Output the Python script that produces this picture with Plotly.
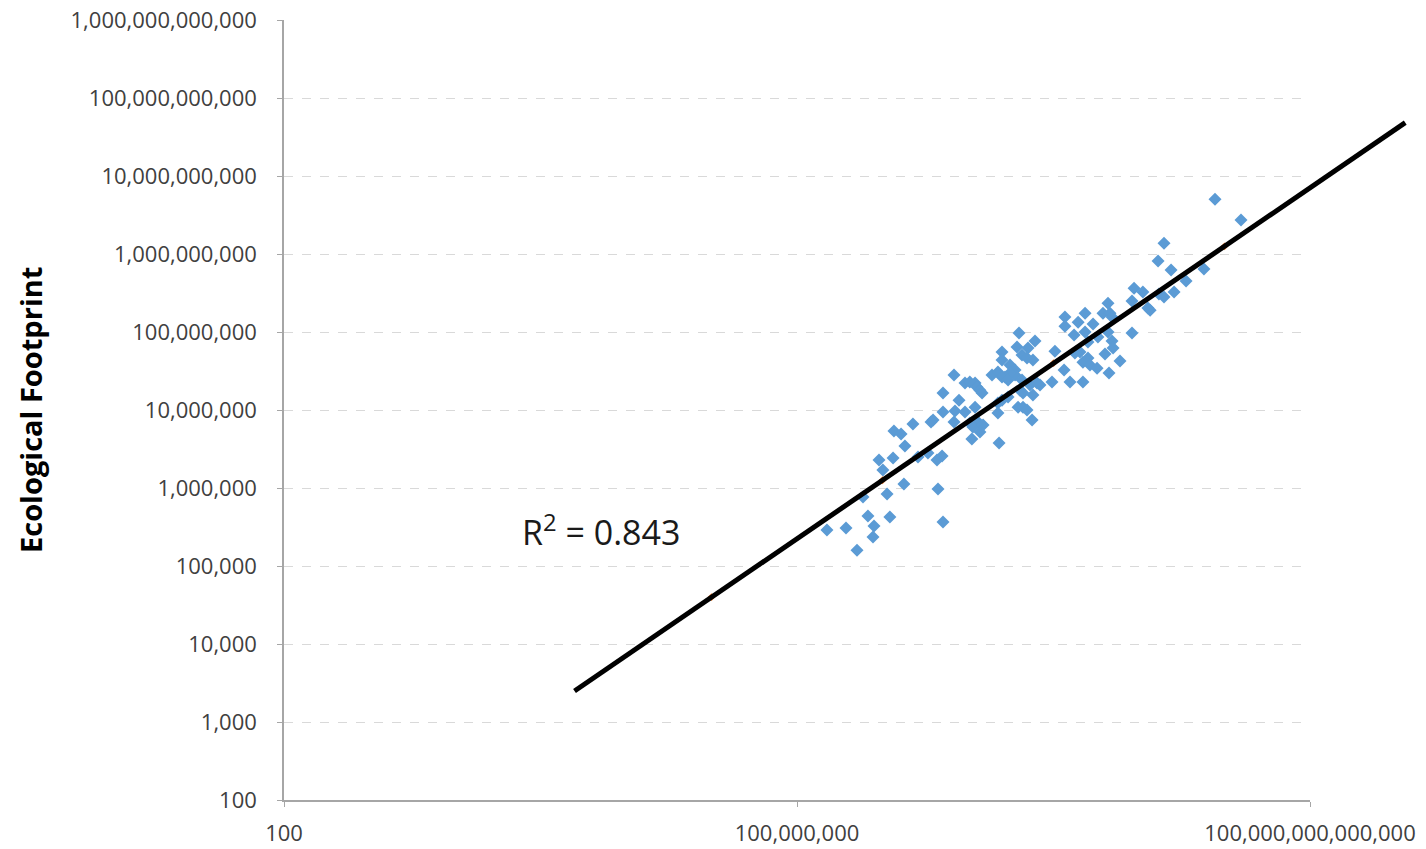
import numpy as np
import plotly.graph_objects as go

# ---- data ----
country_x = [7.74e12, 1.56e13, 1.96e12, 1.67e12, 2.37e12, 5.75e12, 3.55e12, 2.57e12, 1.96e12, 1.71e12,
             8.75e11, 1.11e12, 8.28e11, 1.27e12, 1.35e12, 4.34e11, 3.79e11, 4.58e11, 2.34e11, 4.83e11,
             1.36e11, 1.94e11, 2.90e11, 1.36e11, 4.34e11, 8.28e11, 2.34e11, 1.74e11, 3.31e11, 4.83e11,
             2.53e11, 4.97e11, 1.04e11, 1.78e11, 2.04e11, 4.00e11, 6.00e11, 2.21e11, 2.53e11, 2.67e11,
             3.23e11, 1.33e11, 4.46e11, 9.60e10, 1.56e11, 2.21e11, 6.95e10, 3.95e10, 6.08e10, 3.74e10,
             5.03e10, 2.50e10, 4.28e10, 4.90e10, 5.75e10, 2.50e10, 3.10e10, 3.55e10, 2.71e10, 3.55e10,
             4.28e10, 5.31e10, 6.41e10, 4.06e10, 5.75e10, 3.85e10, 4.40e10, 5.61e10, 4.90e10, 6.86e9,
             1.91e10, 2.24e10, 2.50e10, 3.10e10, 2.94e10, 9.22e9, 1.05e10, 1.21e10, 1.27e10, 1.38e10,
             1.46e10, 5.10e9, 7.85e9, 4.40e10, 2.94e10, 2.50e10, 2.24e10, 5.10e9, 7.05e9, 9.22e9,
             1.21e10, 2.24e10, 3.90e9, 6.86e9, 1.05e10, 1.31e10, 1.14e10, 1.50e10, 1.38e10, 1.11e10,
             2.31e10, 4.97e9, 4.34e9, 4.46e9, 2.27e9, 3.69e9, 1.36e9, 1.65e9, 1.83e9, 9.10e8,
             1.33e9, 1.01e9, 2.60e9, 3.40e9, 1.78e9, 5.92e8, 1.13e9, 6.76e8, 1.22e9, 7.96e8,
             2.24e8, 3.74e8, 7.74e8, 5.10e9, 5.03e8]
country_y = [5.07e9, 2.73e9, 1.38e9, 8.13e8, 6.24e8, 6.42e8, 4.51e8, 3.26e8, 2.81e8, 3.07e8,
             3.66e8, 3.26e8, 2.50e8, 2.03e8, 1.91e8, 2.35e8, 1.75e8, 1.75e8, 1.75e8, 1.56e8,
             1.56e8, 1.34e8, 1.27e8, 1.19e8, 1.00e8, 9.71e7, 1.00e8, 9.16e7, 8.63e7, 7.67e7,
             7.45e7, 6.24e7, 5.70e7, 5.38e7, 5.54e7, 5.22e7, 4.25e7, 4.12e7, 4.64e7, 3.78e7,
             3.45e7, 3.26e7, 2.98e7, 2.29e7, 2.29e7, 2.29e7, 2.09e7, 9.71e7, 7.67e7, 6.42e7,
             6.24e7, 5.54e7, 5.07e7, 4.64e7, 4.38e7, 4.38e7, 3.78e7, 3.26e7, 2.65e7, 2.81e7,
             2.43e7, 2.09e7, 2.22e7, 1.80e7, 1.56e7, 1.09e7, 1.09e7, 7.45e6, 1.00e7, 2.81e7,
             2.81e7, 3.07e7, 2.65e7, 2.98e7, 2.43e7, 2.22e7, 2.29e7, 2.22e7, 1.97e7, 1.80e7,
             1.65e7, 1.65e7, 1.34e7, 1.65e7, 1.47e7, 1.34e7, 1.23e7, 9.42e6, 9.71e6, 9.42e6,
             1.09e7, 9.16e6, 7.45e6, 7.02e6, 6.81e6, 7.02e6, 6.06e6, 6.42e6, 5.22e6, 4.25e6,
             3.78e6, 2.57e6, 2.29e6, 9.71e5, 6.62e6, 7.02e6, 5.38e6, 4.92e6, 3.45e6, 2.29e6,
             2.43e6, 1.70e6, 2.50e6, 2.81e6, 1.13e6, 7.67e5, 8.38e5, 4.38e5, 4.25e5, 3.26e5,
             2.89e5, 3.07e5, 2.35e5, 3.66e5, 1.60e5]

fit_x = [1e7, 1e9, 1e11, 1e13]
fit_y = [4.0e4, 1.26e6, 4.0e7, 1.26e9]

trend_slope = 0.75
trend_log_intercept = -0.65
trend_x_ends = [2.5e5, 1.3e15]
r_squared = 0.843

x_tickvals = [1e2, 1e8, 1e14]
x_ticktext = ["100", "100,000,000", "100,000,000,000,000"]
y_tickvals = [1e2, 1e3, 1e4, 1e5, 1e6, 1e7, 1e8, 1e9, 1e10, 1e11, 1e12]
y_ticktext = ["100", "1,000", "10,000", "100,000", "1,000,000", "10,000,000", "100,000,000",
              "1,000,000,000", "10,000,000,000", "100,000,000,000", "1,000,000,000,000"]
y_title = "Ecological Footprint"

# ---- layout geometry (page body has an 8px margin) ----
W, H = 1418, 841
ML, MR, MT, MB = 276, 13, 12, 49
plot_w = W - ML - MR
plot_h = H - MT - MB
main_frac = 1026 / plot_w
x2_end = 2 + 12 / main_frac
y_top = 12.002

trend_x = np.array(trend_x_ends)
trend_y = 10 ** (trend_slope * np.log10(trend_x) + trend_log_intercept)

tick_font = dict(family="Open Sans", size=22, color="#404040")

fig = go.Figure()
fig.add_trace(go.Scatter(x=country_x, y=country_y, mode="markers",
                         marker=dict(symbol="diamond", size=10, color="#5B9BD5"),
                         xaxis="x", yaxis="y", showlegend=False))
fig.add_trace(go.Scatter(x=fit_x, y=fit_y, mode="markers",
                         marker=dict(symbol="diamond", size=6, color="#ED7D31"),
                         xaxis="x", yaxis="y", showlegend=False))
fig.add_trace(go.Scatter(x=trend_x, y=trend_y, mode="lines",
                         line=dict(color="black", width=5),
                         xaxis="x2", yaxis="y2", showlegend=False))

fig.update_layout(
    width=W, height=H,
    margin=dict(l=ML, r=MR, t=MT, b=MB, autoexpand=False),
    paper_bgcolor="white", plot_bgcolor="rgba(0,0,0,0)",
    xaxis=dict(type="log", range=[2, 14], domain=[0, main_frac], anchor="y", automargin=False,
               tickvals=x_tickvals, ticktext=x_ticktext, showgrid=False, zeroline=False,
               showline=True, linecolor="#A6A6A6", linewidth=1.5,
               ticks="outside", ticklen=5, tickcolor="#A6A6A6", ticklabeloverflow="allow",
               tickfont=tick_font, ticklabelstandoff=8),
    yaxis=dict(type="log", range=[2, y_top], domain=[0, 1], anchor="x", automargin=False,
               tickvals=y_tickvals, ticktext=y_ticktext,
               showgrid=True, gridcolor="#D9D9D9", griddash="dash", gridwidth=1,
               zeroline=False, showline=True, linecolor="#A6A6A6", linewidth=1.5,
               ticks="outside", ticklen=5, tickcolor="#A6A6A6", ticklabeloverflow="allow",
               tickfont=tick_font, ticklabelstandoff=16),
    xaxis2=dict(type="log", range=[2, x2_end], domain=[0, 1], anchor="y2", visible=False,
                automargin=False),
    yaxis2=dict(type="log", range=[2, y_top], domain=[0, 1], anchor="x2", visible=False,
                automargin=False),
    annotations=[
        dict(text="<b>" + y_title + "</b>", xref="paper", yref="paper", x=0, y=0.5,
             xanchor="center", yanchor="middle", xshift=22 - ML, textangle=-90,
             showarrow=False, font=dict(family="Open Sans", size=29, color="black")),
        dict(text="R<sup>2</sup> = " + f"{r_squared:.3f}", xref="paper", yref="paper",
             x=(593 - ML) / plot_w, y=(792 - 522) / plot_h,
             xanchor="center", yanchor="middle", showarrow=False,
             font=dict(family="Open Sans", size=34, color="#1a1a1a")),
    ],
)

fig.write_html("out.html")
